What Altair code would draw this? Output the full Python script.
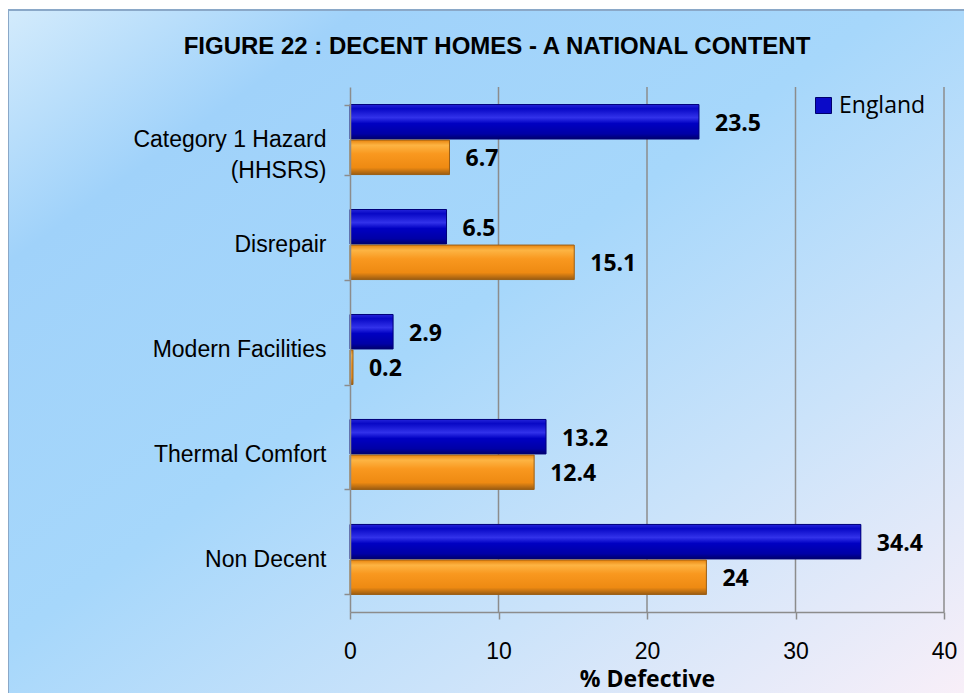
import altair as alt
import pandas as pd

categories = ["Category 1 Hazard\n(HHSRS)", "Disrepair", "Modern Facilities", "Thermal Comfort", "Non Decent"]
england = [23.5, 6.5, 2.9, 13.2, 34.4]
local = [6.7, 15.1, 0.2, 12.4, 24.0]
series_names = ["England", "Local"]
grid_values = [10, 20, 30, 40]
x_ticks = [0, 10, 20, 30, 40]

rows = []
for c, e, l in zip(categories, england, local):
    rows.append({"category": c, "series": series_names[0], "value": e})
    rows.append({"category": c, "series": series_names[1], "value": l})
df = pd.DataFrame(rows)

W, H = 594, 525

def grad(stops, x2=0, y2=1):
    return {"gradient": "linear", "x1": 0, "y1": 0, "x2": x2, "y2": y2,
            "stops": [{"offset": o, "color": c} for o, c in stops]}

blue_grad = grad([(0, "#2424d8"), (0.12, "#0808c6"), (0.38, "#3232ea"), (0.55, "#0000c2"),
                  (0.85, "#0000a6"), (1, "#00006c")])
orange_grad = grad([(0, "#e8840e"), (0.15, "#fdb443"), (0.4, "#f9981f"), (0.8, "#ee8a12"),
                    (1, "#9a5c12")])
bg_grad = grad([(0, "#d3ebfc"), (0.18, "#a0d2fa"), (0.45, "#a6d7fb"), (0.7, "#cbe3fa"), (1, "#fcf0f8")],
               x2=1, y2=1)

bg = alt.Chart(pd.DataFrame({"a": [0]})).mark_rect(
    fill=bg_grad, stroke="#8aa8c8", strokeWidth=2
).encode(
    x=alt.value(-342), x2=alt.value(W + 40), y=alt.value(-77), y2=alt.value(H + 100)
)

grid = alt.Chart(pd.DataFrame({"g": grid_values})).mark_rule(
    color="#8c8c8c", strokeWidth=1.5
).encode(x=alt.X("g:Q"))

y_enc = alt.Y("category:N", sort=categories, title=None,
              scale=alt.Scale(paddingInner=0.333, paddingOuter=0.167),
              axis=alt.Axis(labelExpr="split(datum.label, '\\n')", labelFont="Liberation Sans",
                            labelFontSize=23, labelColor="#000000", labelLineHeight=31,
                            labelLimit=400,
                            labelPadding=18, tickBand="extent", tickSize=6, tickColor="#8c8c8c",
                            domainColor="#8c8c8c", domainWidth=1.5, tickWidth=1.5, zindex=1))
x_enc = alt.X("value:Q", scale=alt.Scale(domain=[0, 40], nice=False),
              axis=alt.Axis(values=x_ticks, grid=False, title="% Defective",
                            titleFont="Open Sans", titleFontSize=23, titleFontWeight="bold",
                            titleColor="#000000", titlePadding=5,
                            labelFont="Liberation Sans", labelFontSize=23, labelColor="#000000",
                            labelFlush=False,
                            labelPadding=21, tickSize=7, tickColor="#8c8c8c", tickWidth=1.5,
                            domainColor="#8c8c8c", domainWidth=1.5, zindex=1))
yoff = alt.YOffset("series:N", sort=series_names, scale=alt.Scale(paddingInner=0.03))

base_bars = alt.Chart(df).mark_bar().encode(
    y=y_enc, x=x_enc, yOffset=yoff,
    color=alt.Color("series:N", sort=series_names,
                    scale=alt.Scale(domain=series_names, range=["#0a0ac8", "#f7941d"]),
                    legend=alt.Legend(values=["England"], title=None, orient="none",
                                      legendX=462, legendY=7, symbolType="square",
                                      symbolSize=256, symbolStrokeColor="#00006c",
                                      symbolStrokeWidth=1, labelFont="Open Sans",
                                      labelFontSize=23, labelColor="#000000", labelOffset=4,
                                      padding=0, zindex=2))
)

grad_bars = alt.Chart(df).mark_bar(strokeWidth=1).encode(
    y=alt.Y("category:N", sort=categories), x=alt.X("value:Q"), yOffset=yoff,
    fill=alt.condition("datum.series === 'England'", alt.value(blue_grad), alt.value(orange_grad)),
    stroke=alt.condition("datum.series === 'England'", alt.value("#00007a"), alt.value("#9a6018")),
)

labels = alt.Chart(df).mark_text(
    align="left", baseline="middle", dx=16, dy=2, font="Open Sans", fontSize=23,
    fontWeight="bold", color="#000000"
).encode(
    y=alt.Y("category:N", sort=categories), x=alt.X("value:Q"), yOffset=yoff,
    text=alt.Text("value:Q", format="~g")
)

chart = alt.layer(bg, grid, base_bars, grad_bars, labels).properties(
    width=W, height=H,
    autosize=alt.AutoSizeParams(type="none"),
    padding={"left": 342, "top": 79, "right": 20, "bottom": 100},
    title=alt.TitleParams("FIGURE 22 : DECENT HOMES - A NATIONAL CONTENT",
                          font="Liberation Sans", fontSize=24, fontWeight="bold",
                          color="#000000", anchor="middle", dx=-150, offset=-50),
).configure_view(stroke=None)

chart.save("out.html", embed_options={"renderer": "svg", "actions": False})
